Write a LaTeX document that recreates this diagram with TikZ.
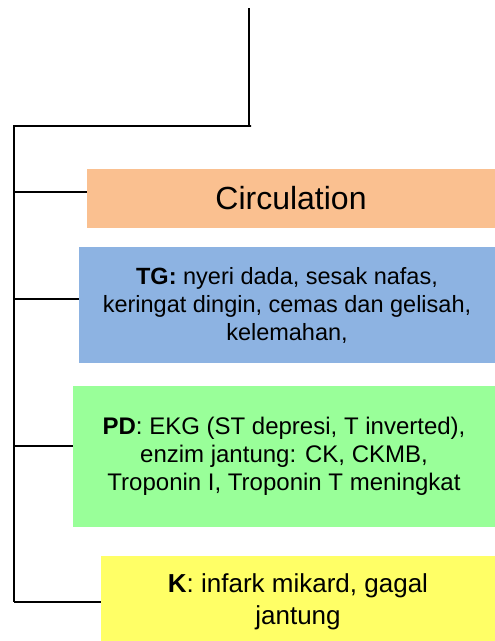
\documentclass[tikz,border=0pt]{standalone}
\usepackage{fontspec}
\setmainfont{Liberation Sans}
\definecolor{circfill}{HTML}{FAC090}
\definecolor{tgfill}{HTML}{8DB3E2}
\definecolor{pdfill}{HTML}{99FF99}
\definecolor{kfill}{HTML}{FFFF66}
\tikzset{
  box/.style={inner sep=0pt, outer sep=0pt, align=center, text=black},
  link/.style={draw=black, line width=2pt},
}
\begin{document}
\begin{tikzpicture}[x=1pt,y=-1pt]
  \useasboundingbox (0,0) rectangle (495,641);
  % category boxes
  \node[box, fill=circfill, minimum width=408pt, minimum height=59pt,
        font=\fontsize{32}{37}\selectfont] (circ) at (291,198.5) {Circulation};
  \node[box, fill=tgfill, minimum width=416pt, minimum height=116pt,
        font=\fontsize{23.5}{28}\selectfont] (tg) at (287,305)
        {\textbf{TG:} nyeri dada, sesak nafas,\\keringat dingin, cemas dan gelisah,\\kelemahan,};
  \node[box, fill=pdfill, minimum width=422pt, minimum height=141pt,
        font=\fontsize{24}{28}\selectfont] (pd) at (284,456.5)
        {\textbf{PD}: EKG (ST depresi, T inverted),\\enzim jantung: CK, CKMB,\\Troponin I, Troponin T meningkat};
  \node[box, fill=kfill, minimum width=394pt, minimum height=92pt,
        font=\fontsize{26}{32}\selectfont] (k) at (298,602)
        {\textbf{K}: infark mikard, gagal\\jantung};
  % tree spine
  \coordinate (top) at (249,8);
  \coordinate (corner) at (249,126);
  \coordinate (tl) at (14,126);
  \coordinate (s1) at (14,192);
  \coordinate (s2) at (14,299);
  \coordinate (s3) at (14,446);
  \coordinate (s4) at (14,602);
  \draw[link] (top) -- (corner);
  \draw[link] (corner) -- ++(2,0) -- (tl) -- (s4);
  \draw[link] (s1) -- (s1 -| circ.west);
  \draw[link] (s2) -- (s2 -| tg.west);
  \draw[link] (s3) -- (s3 -| pd.west);
  \draw[link] (s4) -- (s4 -| k.west);
\end{tikzpicture}
\end{document}
